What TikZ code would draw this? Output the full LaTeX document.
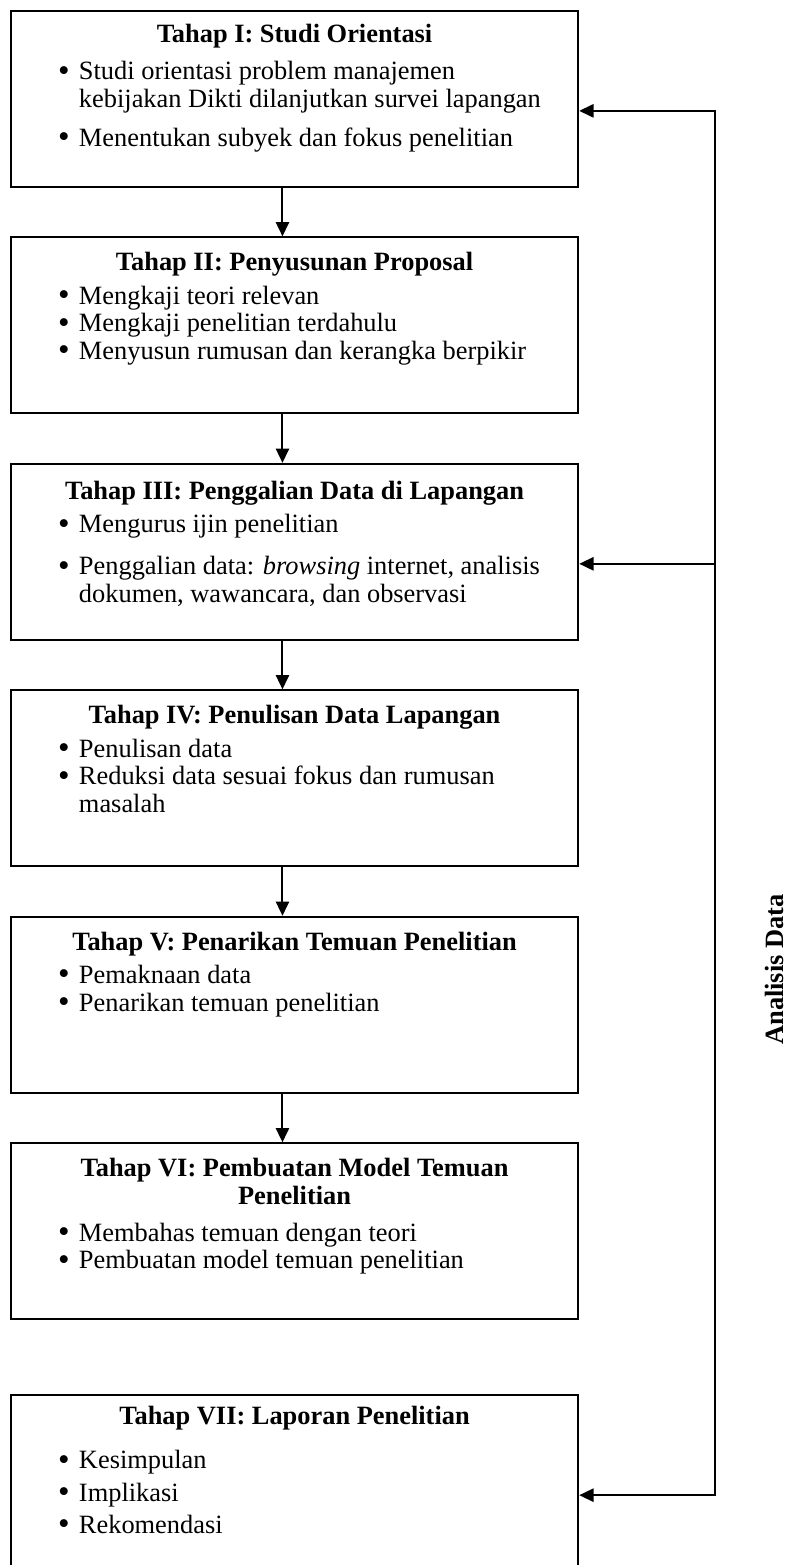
\documentclass[tikz,border=0pt]{standalone}
\usepackage{fontspec}
\setmainfont{Liberation Serif}
\usetikzlibrary{arrows.meta,positioning,calc}

\newcommand{\tahapisi}[3][7pt]{%
  \begin{minipage}[t][80pt][t]{258pt}
  \vspace*{#1}
  \centering\textbf{#2}\par
  \vspace{2.5pt}
  \raggedright #3
  \end{minipage}}
\newcommand{\butir}[1]{\par\hangindent=31pt\hangafter=1\noindent
  \hspace*{21.5pt}\makebox[9.5pt][l]{\fontsize{15pt}{12pt}\selectfont\raisebox{-0.6pt}{\textbullet}}#1}

\begin{document}
\begin{tikzpicture}[
  font=\fontsize{12pt}{12.6pt}\selectfont,
  >={Triangle[length=6.5pt,width=6pt]},
  tahap/.style={draw,line width=0.8pt,inner sep=0pt,minimum width=258pt,minimum height=80pt}
]
\useasboundingbox (0,0) rectangle (357.7pt,-711.4pt);
\node[tahap,anchor=north west] (b1) at (4.5pt,-4.5pt) {\tahapisi[6pt]{Tahap I: Studi Orientasi}{\vspace{2pt}%
  \butir{Studi orientasi problem manajemen\newline kebijakan Dikti dilanjutkan survei lapangan}\par\vspace{5pt}
  \butir{Menentukan subyek dan fokus penelitian}}};
\node[tahap,below=22.15pt of b1] (b2) {\tahapisi{Tahap II: Penyusunan Proposal}{%
  \butir{Mengkaji teori relevan}
  \butir{Mengkaji penelitian terdahulu}
  \butir{Menyusun rumusan dan kerangka berpikir}}};
\node[tahap,below=22.15pt of b2] (b3) {\tahapisi[8pt]{Tahap III: Penggalian Data di Lapangan}{%
  \butir{Mengurus ijin penelitian}\par\vspace{6.5pt}
  \butir{Penggalian data: \textit{browsing} internet, analisis\newline dokumen, wawancara, dan observasi}}};
\node[tahap,below=22.15pt of b3] (b4) {\tahapisi{Tahap IV: Penulisan Data Lapangan}{%
  \butir{Penulisan data}
  \butir{Reduksi data sesuai fokus dan rumusan\newline masalah}}};
\node[tahap,below=22.15pt of b4] (b5) {\tahapisi{Tahap V: Penarikan Temuan Penelitian}{%
  \butir{Pemaknaan data}
  \butir{Penarikan temuan penelitian}}};
\node[tahap,below=22.15pt of b5] (b6) {\tahapisi{Tahap VI: Pembuatan Model Temuan\\ Penelitian}{\vspace{1.5pt}%
  \butir{Membahas temuan dengan teori}
  \butir{Pembuatan model temuan penelitian}}};
\node[tahap,below=33.7pt of b6] (b7) {\tahapisi[5pt]{Tahap VII: Laporan Penelitian}{%
  \fontsize{12pt}{14.7pt}\selectfont\vspace{3pt}%
  \butir{Kesimpulan}
  \butir{Implikasi}
  \butir{Rekomendasi}}};
% alur antar tahap
\foreach \a/\b in {b1/b2,b2/b3,b3/b4,b4/b5,b5/b6}
  \draw[->,line width=0.9pt] ([xshift=-5.5pt]\a.south) -- ([xshift=-5.5pt]\b.north);
% umpan balik analisis data
\coordinate (t1) at ([yshift=-5.5pt]b1.east);
\coordinate (t3) at ([yshift=-5.5pt]b3.east);
\coordinate (t7) at ([yshift=-5.5pt]b7.east);
\coordinate (atas) at ([xshift=61.8pt]t1);
\coordinate (bawah) at (t7 -| atas);
\draw[<->,line width=0.9pt] (t7) -- (bawah) -- (atas) -- (t1);
\draw[->,line width=0.9pt] (t3 -| atas) -- (t3);
\node[rotate=90,inner sep=0pt,font=\fontsize{12pt}{12pt}\selectfont\bfseries] (analisis)
  at ($(atas |- b5.center)+(27pt,16pt)$) {Analisis Data};
\end{tikzpicture}
\end{document}
